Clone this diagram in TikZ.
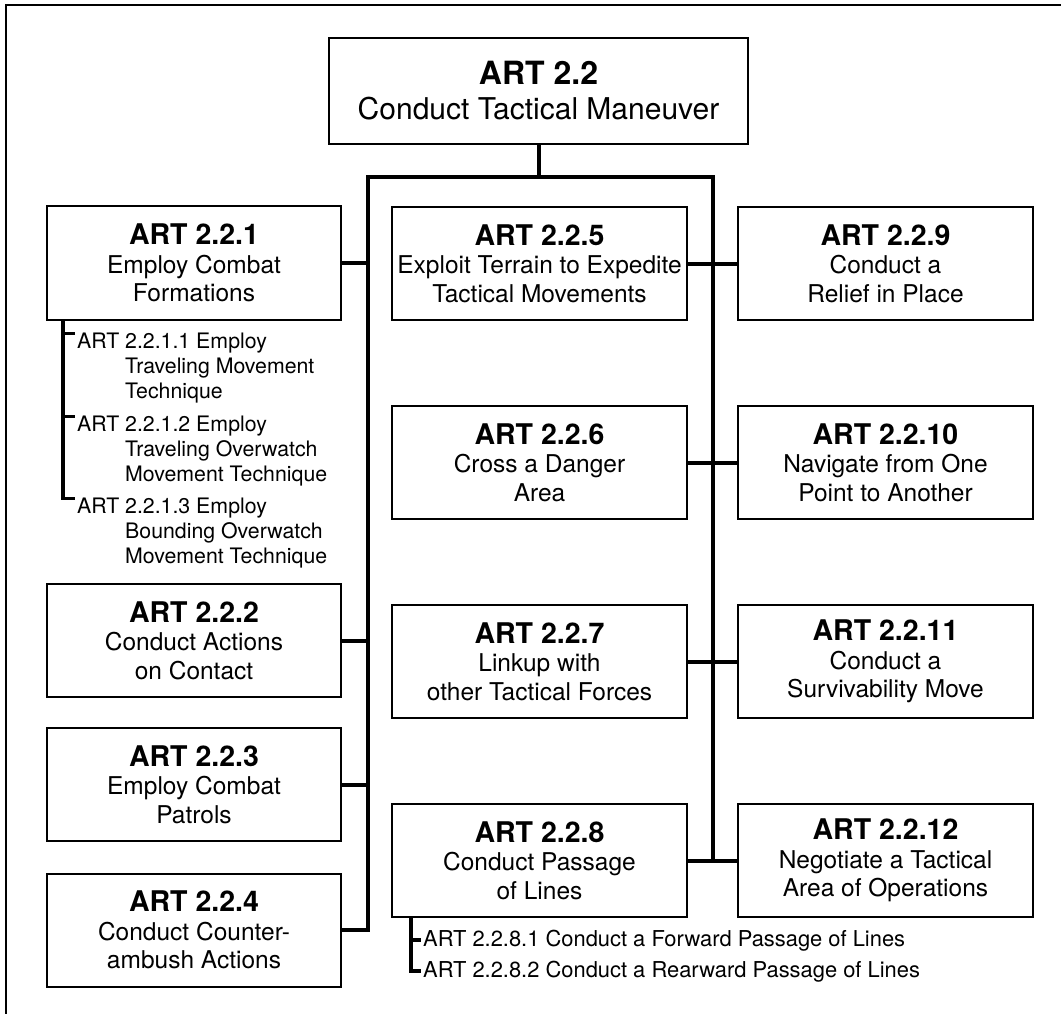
\documentclass[tikz,border=0pt]{standalone}
\usepackage{fontspec}
\setmainfont{TeX Gyre Heros}
\usetikzlibrary{positioning,calc}

\tikzset{
  artbox/.style={draw, line width=2pt, minimum width=295pt, minimum height=113pt,
    inner sep=0pt, align=center, font=\fontsize{24.5}{28.5}\selectfont},
  trunk/.style={line width=4pt, line join=miter},
  subline/.style={line width=3.5pt, line join=miter},
  subitem/.style={inner sep=0pt, align=left, font=\fontsize{21.3}{25}\selectfont},
}
\newcommand{\arthead}[1]{{\fontsize{28.5}{28.5}\selectfont\bfseries #1}}
\newcommand{\contind}{\hspace*{48pt}}

\begin{document}
\begin{tikzpicture}[x=1pt,y=-1pt]
  \useasboundingbox (0,0) rectangle (1061,1014);
  \draw[line width=2pt] (6,1014) -- (6,5) -- (1061,5);

  % top box
  \node[artbox, minimum width=419pt, minimum height=106pt, font=\fontsize{30}{35}\selectfont]
    (art22) at (538.5,91) {{\fontsize{32}{35}\selectfont\bfseries ART 2.2}\\Conduct Tactical Maneuver};

  % left column
  \node[artbox, minimum width=294pt] (l221) at (194,263) {\arthead{ART 2.2.1}\\Employ Combat\\Formations};
  \node[artbox, minimum width=294pt] (l222) at (194,640.5) {\arthead{ART 2.2.2}\\Conduct Actions\\on Contact};
  \node[artbox, minimum width=294pt] (l223) at (194,784.5) {\arthead{ART 2.2.3}\\Employ Combat\\Patrols};
  \node[artbox, minimum width=294pt] (l224) at (194,930) {\arthead{ART 2.2.4}\\Conduct Counter-\\ambush Actions};

  % middle column
  \node[artbox] (m225) at (539.5,263.5) {\arthead{ART 2.2.5}\\Exploit Terrain to Expedite\\Tactical Movements};
  \node[artbox] (m226) at (539.5,462.5) {\arthead{ART 2.2.6}\\Cross a Danger\\Area};
  \node[artbox] (m227) at (539.5,661.5) {\arthead{ART 2.2.7}\\Linkup with\\other Tactical Forces};
  \node[artbox] (m228) at (539.5,860.5) {\arthead{ART 2.2.8}\\Conduct Passage\\of Lines};

  % right column
  \node[artbox] (r229) at (885.5,263.5) {\arthead{ART 2.2.9}\\Conduct a\\Relief in Place};
  \node[artbox] (r2210) at (885.5,462.5) {\arthead{ART 2.2.10}\\Navigate from One\\Point to Another};
  \node[artbox] (r2211) at (885.5,661.5) {\arthead{ART 2.2.11}\\Conduct a\\Survivability Move};
  \node[artbox] (r2212) at (885.5,860.5) {\arthead{ART 2.2.12}\\Negotiate a Tactical\\Area of Operations};

  % trunk
  \coordinate (jt) at ([yshift=-33pt]art22.south);
  \coordinate (jl) at (368,177);
  \coordinate (jr) at (713,177);
  \draw[trunk] (art22.south) -- (jt);
  \draw[trunk] (l224.east) -| (jl) -- (jr) -- (jr |- m228.east);
  \foreach \b in {l221,l222,l223}
    \draw[trunk] (\b.east) -- (\b.east -| jl);
  \foreach \a/\b in {m225/r229, m226/r2210, m227/r2211, m228/r2212}
    \draw[trunk] (\a.east) -- (\b.west);

  % sub items of 2.2.1
  \node[subitem, anchor=north west] (s2211) at (77,332.5) {ART 2.2.1.1 Employ\\\contind Traveling Movement\\\contind Technique};
  \node[subitem, anchor=north west] (s2212) at (77,415.5) {ART 2.2.1.2 Employ\\\contind Traveling Overwatch\\\contind Movement Technique};
  \node[subitem, anchor=north west] (s2213) at (77,497.5) {ART 2.2.1.3 Employ\\\contind Bounding Overwatch\\\contind Movement Technique};
  \coordinate (t221) at ([xshift=17pt]l221.south west);
  \coordinate (k1) at ([xshift=-2pt,yshift=-1pt]s2211.north west);
  \coordinate (k2) at ([xshift=-2pt,yshift=-1pt]s2212.north west);
  \coordinate (k3) at ([xshift=-2pt,yshift=-1pt]s2213.north west);
  \draw[subline] (t221) |- (k3);
  \draw[subline] (t221 |- k1) -- (k1);
  \draw[subline] (t221 |- k2) -- (k2);

  % sub items of 2.2.8
  \node[subitem, anchor=base west, font=\fontsize{21.9}{25}\selectfont] (s2281) at (423,946) {ART 2.2.8.1 Conduct a Forward Passage of Lines};
  \node[subitem, anchor=base west, font=\fontsize{21.9}{25}\selectfont] (s2282) at (423,977) {ART 2.2.8.2 Conduct a Rearward Passage of Lines};
  \coordinate (t228) at ([xshift=20pt]m228.south west);
  \draw[subline] (t228) |- ([xshift=-2pt]s2282.west);
  \draw[subline] (t228 |- s2281.west) -- ([xshift=-2pt]s2281.west);
\end{tikzpicture}
\end{document}
